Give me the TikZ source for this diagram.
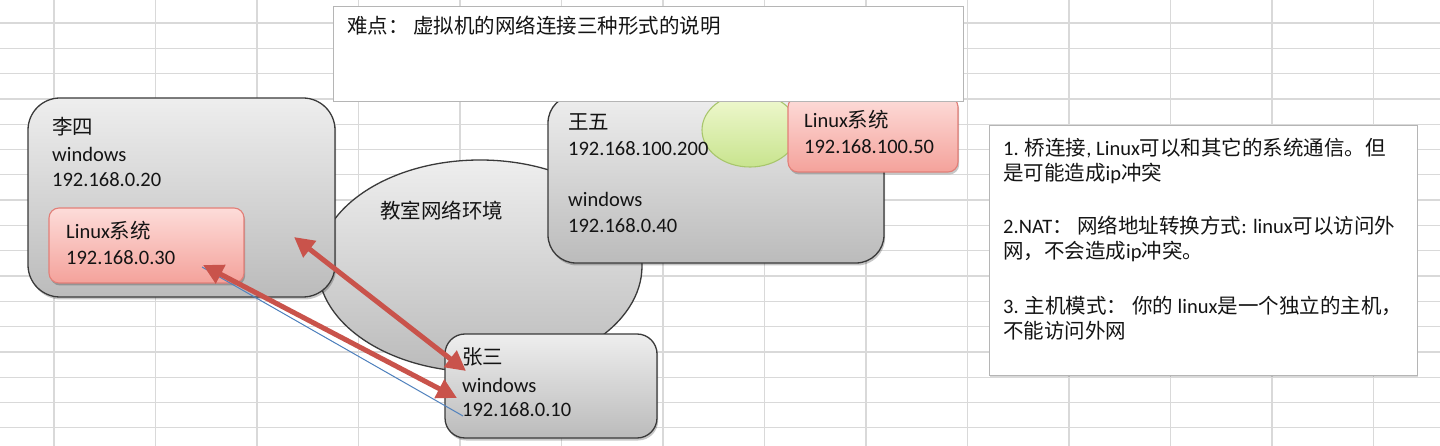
\documentclass[tikz,border=0pt]{standalone}
\usepackage{fontspec}
\setmainfont{Carlito}
\newfontfamily\cjk{Noto Sans CJK SC}
\usetikzlibrary{shapes.geometric,arrows.meta,shadows}
\definecolor{gridc}{HTML}{D9D9D9}
\definecolor{grayT}{HTML}{EEEEEE}
\definecolor{grayB}{HTML}{BBBBBB}
\definecolor{edgec}{HTML}{3A3A3A}
\definecolor{pinkT}{HTML}{FDDCD9}
\definecolor{pinkB}{HTML}{F4A29B}
\definecolor{pinkE}{HTML}{E27F78}
\definecolor{greenT}{HTML}{F1F9D2}
\definecolor{greenB}{HTML}{C8E48E}
\definecolor{greenE}{HTML}{A8C66C}
\definecolor{redc}{HTML}{C9534B}
\definecolor{bluec}{HTML}{4F81BD}
\definecolor{textc}{HTML}{141414}
\definecolor{panelE}{HTML}{B5B5B5}
\tikzset{
  gridline/.style={draw=gridc, line width=1.3pt},
  shade/.style={drop shadow={shadow xshift=1.2pt, shadow yshift=-2.5pt, opacity=0.22, fill=black}},
  graybox/.style={rectangle, draw=edgec, line width=1.3pt, top color=grayT, bottom color=grayB, inner sep=0, shade},
  pinkbox/.style={rectangle, rounded corners=10pt, draw=pinkE, line width=1.1pt, top color=pinkT, bottom color=pinkB, inner sep=0, shade},
  panel/.style={rectangle, draw=panelE, line width=1pt, fill=white, inner sep=0},
  txt/.style={anchor=base west, inner sep=0, text=textc, font=\fontsize{20.5}{26}\selectfont},
  redarrow/.style={draw=redc, line width=5pt, {Triangle[length=20pt,width=20pt]}-{Triangle[length=20pt,width=20pt]}},
  blueline/.style={draw=bluec, line width=1pt}
}
\begin{document}
\begin{tikzpicture}[x=1pt,y=-1pt]
\useasboundingbox (0,0) rectangle (1440,446);
\fill[white] (0,0) rectangle (1440,446);
% spreadsheet grid
\foreach \i in {0,...,13} \draw[gridline] ({54+101.5*\i},0) -- ({54+101.5*\i},446);
\foreach \k in {0,...,16} \draw[gridline] (0,{23+25.3*\k}) -- (1440,{23+25.3*\k});

% network ellipse
\node[ellipse, draw=edgec, line width=1.3pt, top color=grayT, bottom color=grayB, minimum width=324pt, minimum height=212pt, inner sep=0] (net) at (480,266) {};

% boxes
\node[graybox, rounded corners=32pt, minimum width=307pt, minimum height=199pt] (lisi) at (181.5,197.5) {};
\node[pinkbox, minimum width=195pt, minimum height=75pt] (lx1) at (146.5,245.5) {};
\node[graybox, rounded corners=28pt, minimum width=336pt, minimum height=168pt] (wangwu) at (716,179) {};
\node[ellipse, draw=greenE, line width=1.1pt, top color=greenT, bottom color=greenB, minimum width=96pt, minimum height=74pt, inner sep=0] (bridge) at (750,130) {};
\node[pinkbox, minimum width=170pt, minimum height=75pt] (lx2) at (873,134.5) {};
\node[graybox, rounded corners=20pt, minimum width=212pt, minimum height=104pt] (zhangsan) at (551,386) {};

% panels
\node[panel, minimum width=630pt, minimum height=95pt] (title) at (648,54.5) {};
\node[panel, minimum width=428pt, minimum height=249pt, drop shadow={shadow xshift=1pt, shadow yshift=-1.5pt, opacity=0.15, fill=black}] (note) at (1203,250.5) {};

% texts
\node[txt] (tl1) at (52,135) {\cjk 李四};
\node[txt] (tl2) at (52,162) {windows};
\node[txt] (tl3) at (52,187) {192.168.0.20};
\node[txt] (tx1) at (66,239) {Linux{\cjk 系统}};
\node[txt] (tx2) at (66,265) {192.168.0.30};
\node[txt] (tnet) at (380,218.5) {\cjk 教室网络环境};
\node[txt] (tw1) at (568,130) {\cjk 王五};
\node[txt] (tw2) at (568,156) {192.168.100.200};
\node[txt] (tw3) at (568,207) {windows};
\node[txt] (tw4) at (568,233) {192.168.0.40};
\node[txt] (ty1) at (804,128) {Linux{\cjk 系统}};
\node[txt] (ty2) at (804,154) {192.168.100.50};
\node[txt] (tz1) at (462,364) {\cjk 张三};
\node[txt] (tz2) at (462,392) {windows};
\node[txt] (tz3) at (462,416) {192.168.0.10};
\node[txt] (ttitle) at (347,34) {{\cjk 难点： 虚拟机的网络连接三种形式的说明}};
\node[txt] (n1) at (1003,156) {1. {\cjk 桥连接}, Linux{\cjk 可以和其它的系统通信。但}};
\node[txt] (n2) at (1003,181) {{\cjk 是可能造成}ip{\cjk 冲突}};
\node[txt] (n3) at (1003,234) {2.NAT{\cjk ： 网络地址转换方式}: linux{\cjk 可以访问外}};
\node[txt] (n4) at (1003,259) {{\cjk 网，不会造成}ip{\cjk 冲突。}};
\node[txt] (n5) at (1003,313) {3. {\cjk 主机模式： 你的} linux{\cjk 是一个独立的主机，}};
\node[txt] (n6) at (1003,338) {\cjk 不能访问外网};

% connectors
\coordinate (a1s) at (294,237);
\coordinate (a1e) at (466,371);
\coordinate (a2s) at (203,265);
\coordinate (a2e) at (457,398);
\coordinate (bls) at (202,267);
\coordinate (ble) at (463,416);
\draw[blueline] (bls) -- (ble);
\draw[redarrow] (a1s) -- (a1e);
\draw[redarrow] (a2s) -- (a2e);
\end{tikzpicture}
\end{document}
